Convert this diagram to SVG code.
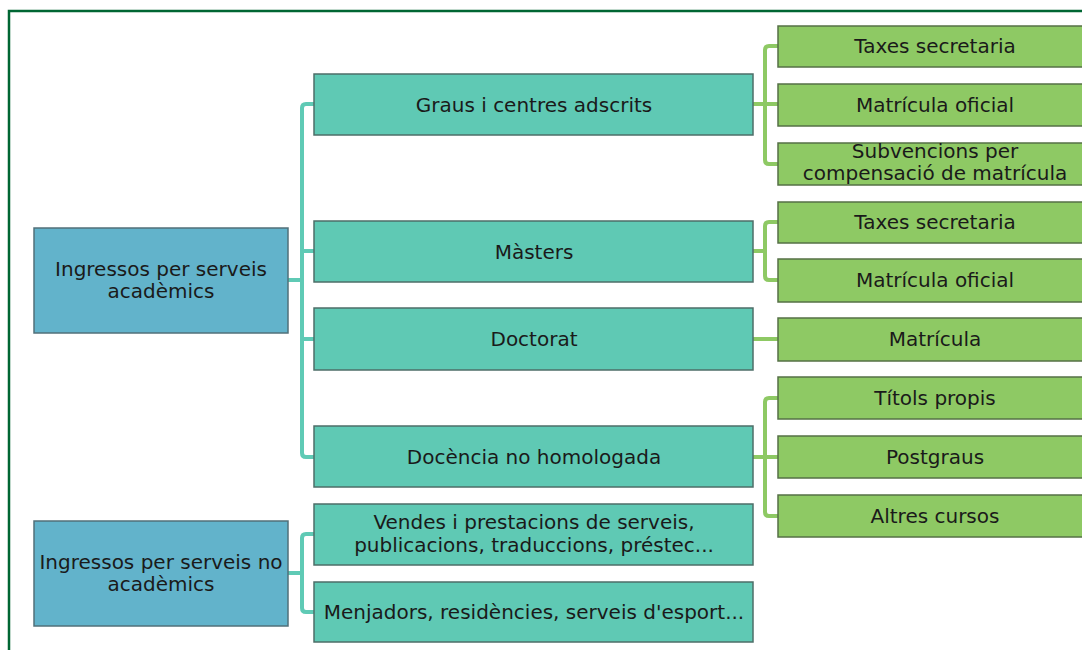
<svg xmlns="http://www.w3.org/2000/svg" width="1082" height="650" viewBox="0 0 1082 650">
  <style>
    .frame { fill: none; stroke: #006633; stroke-width: 2.5; }
    .root rect { fill: #62b3cb; stroke: #51707a; stroke-width: 1.5; }
    .mid rect { fill: #5fc9b4; stroke: #4d6e68; stroke-width: 1.5; }
    .leaf rect { fill: #8ec964; stroke: #557046; stroke-width: 1.5; }
    text { font-family: "DejaVu Sans", "Liberation Sans", sans-serif; font-size: 20px; fill: #1a1a1a; text-anchor: middle; }
    .c-teal { fill: none; stroke: #5fcab5; stroke-width: 4; stroke-linejoin: round; }
    .c-green { fill: none; stroke: #8ec964; stroke-width: 4; stroke-linejoin: round; }
  </style>

  <rect width="1082" height="650" fill="#ffffff"/>
  <path class="frame" d="M9,650 V11 H1082"/>

  <!-- connectors -->
  <g id="connectors">
    <path class="c-teal" d="M288,280 H302"/>
    <path class="c-teal" d="M314,104 H306 Q302,104 302,108 V453 Q302,457 306,457 H314"/>
    <path class="c-teal" d="M302,251 H314"/>
    <path class="c-teal" d="M302,339 H314"/>
    <path class="c-teal" d="M288,573 H302"/>
    <path class="c-teal" d="M314,534 H306 Q302,534 302,538 V608 Q302,612 306,612 H314"/>

    <path class="c-green" d="M753,104 H778"/>
    <path class="c-green" d="M778,46 H769 Q765,46 765,50 V160 Q765,164 769,164 H778"/>
    <path class="c-green" d="M753,251 H765"/>
    <path class="c-green" d="M778,222 H769 Q765,222 765,226 V276 Q765,280 769,280 H778"/>
    <path class="c-green" d="M753,339 H778"/>
    <path class="c-green" d="M753,457 H778"/>
    <path class="c-green" d="M778,398 H769 Q765,398 765,402 V512 Q765,516 769,516 H778"/>
  </g>

  <!-- root nodes -->
  <g id="root-academic" class="root">
    <rect x="34" y="228" width="254" height="105"/>
    <text x="161" y="276">Ingressos per serveis</text>
    <text x="161" y="298">acadèmics</text>
  </g>
  <g id="root-non-academic" class="root">
    <rect x="34" y="521" width="254" height="105"/>
    <text x="161" y="569">Ingressos per serveis no</text>
    <text x="161" y="591">acadèmics</text>
  </g>

  <!-- second level -->
  <g id="graus" class="mid">
    <rect x="314" y="74" width="439" height="61"/>
    <text x="534" y="112">Graus i centres adscrits</text>
  </g>
  <g id="masters" class="mid">
    <rect x="314" y="221" width="439" height="61"/>
    <text x="534" y="259">Màsters</text>
  </g>
  <g id="doctorat" class="mid">
    <rect x="314" y="308" width="439" height="62"/>
    <text x="534" y="346">Doctorat</text>
  </g>
  <g id="docencia" class="mid">
    <rect x="314" y="426" width="439" height="61"/>
    <text x="534" y="464">Docència no homologada</text>
  </g>
  <g id="vendes" class="mid">
    <rect x="314" y="504" width="439" height="61"/>
    <text x="534" y="529">Vendes i prestacions de serveis,</text>
    <text x="534" y="552">publicacions, traduccions, préstec...</text>
  </g>
  <g id="menjadors" class="mid">
    <rect x="314" y="582" width="439" height="60"/>
    <text x="534" y="619">Menjadors, residències, serveis d'esport...</text>
  </g>

  <!-- third level -->
  <g id="graus-taxes" class="leaf">
    <rect x="778" y="26" width="314" height="41"/>
    <text x="935" y="53">Taxes secretaria</text>
  </g>
  <g id="graus-matricula" class="leaf">
    <rect x="778" y="84" width="314" height="42"/>
    <text x="935" y="112">Matrícula oficial</text>
  </g>
  <g id="graus-subvencions" class="leaf">
    <rect x="778" y="143" width="314" height="42"/>
    <text x="935" y="158">Subvencions per</text>
    <text x="935" y="180">compensació de matrícula</text>
  </g>
  <g id="masters-taxes" class="leaf">
    <rect x="778" y="202" width="314" height="41"/>
    <text x="935" y="229">Taxes secretaria</text>
  </g>
  <g id="masters-matricula" class="leaf">
    <rect x="778" y="259" width="314" height="43"/>
    <text x="935" y="287">Matrícula oficial</text>
  </g>
  <g id="doctorat-matricula" class="leaf">
    <rect x="778" y="318" width="314" height="43"/>
    <text x="935" y="346">Matrícula</text>
  </g>
  <g id="titols-propis" class="leaf">
    <rect x="778" y="377" width="314" height="42"/>
    <text x="935" y="405">Títols propis</text>
  </g>
  <g id="postgraus" class="leaf">
    <rect x="778" y="436" width="314" height="42"/>
    <text x="935" y="464">Postgraus</text>
  </g>
  <g id="altres-cursos" class="leaf">
    <rect x="778" y="495" width="314" height="42"/>
    <text x="935" y="523">Altres cursos</text>
  </g>
</svg>
